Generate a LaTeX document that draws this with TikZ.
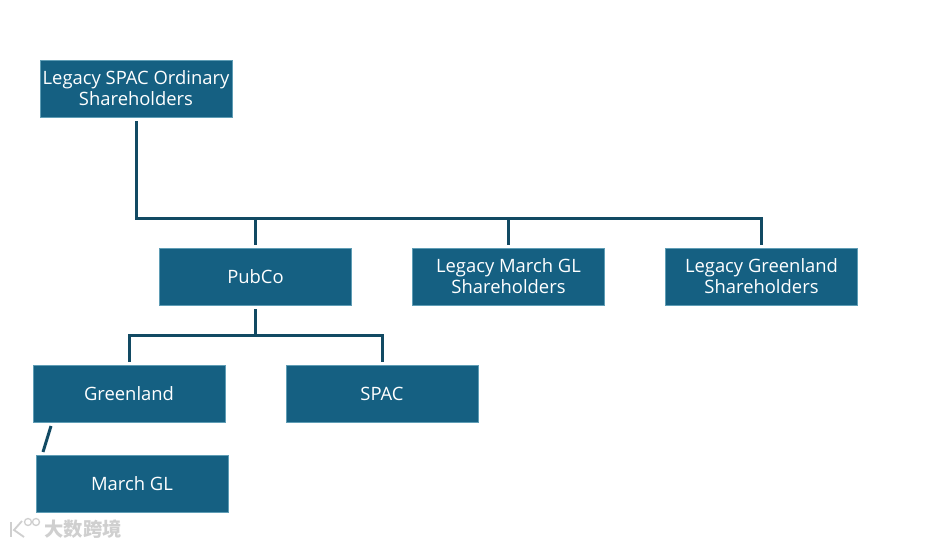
\documentclass[tikz,border=0pt]{standalone}
\usepackage{fontspec}
\setmainfont{Open Sans}
\newfontfamily\cjkfont{Noto Sans CJK SC}
\definecolor{boxblue}{HTML}{156082}
\definecolor{boxedge}{HTML}{5F9DB5}
\definecolor{linkblue}{HTML}{124A63}
\definecolor{markgrey}{HTML}{CFCFCF}
\tikzset{
  entity/.style={draw=boxedge, line width=0.3pt, fill=boxblue, text=white, align=center,
    minimum width=144.2pt, minimum height=43pt, inner sep=0pt,
    font=\fontsize{13.8}{15.75}\selectfont},
  link/.style={draw=linkblue, line width=2.25pt, line cap=butt, line join=miter},
}

\begin{document}
\begin{tikzpicture}[x=0.75pt, y=-0.75pt]
  \useasboundingbox (0,0) rectangle (927,546);

  % Boxes
  \node[entity] (spacholders) at (136, 88.5) {Legacy SPAC Ordinary\\Shareholders};
  \node[entity] (pubco) at (255.5, 276.5) {PubCo};
  \node[entity] (marchholders) at (508.5, 276.5) {Legacy March GL\\Shareholders};
  \node[entity] (greenholders) at (761.5, 276.5) {Legacy Greenland\\Shareholders};
  \node[entity] (greenland) at (129, 393.5) {Greenland};
  \node[entity] (spac) at (382, 393.5) {SPAC};
  \node[entity] (marchgl) at (132, 483.5) {March GL};

  % Ends of the connectors
  \coordinate (topstart) at (136, 121);
  \coordinate (topcorner) at (136, 218);
  \coordinate (topend) at (761, 218);
  \coordinate (pubcotop) at (255, 245);
  \coordinate (marchtop) at (508, 245);
  \coordinate (greentop) at (761, 245);
  \coordinate (busa) at (255, 218);
  \coordinate (busb) at (508, 218);
  \coordinate (lowstart) at (255, 309);
  \coordinate (lowmid) at (255, 335);
  \coordinate (lowleft) at (129, 335);
  \coordinate (lowright) at (382, 335);
  \coordinate (greentip) at (129, 362);
  \coordinate (spactip) at (382, 362);
  \coordinate (diagtop) at (51, 426);
  \coordinate (diagbot) at (43, 452);

  % Connectors
  \draw[link] (topstart) -- (topcorner) -- (topend) -- (greentop);
  \draw[link] (busa) -- (pubcotop);
  \draw[link] (busb) -- (marchtop);
  \draw[link] (lowstart) -- (lowmid);
  \draw[link] (greentip) -- (lowleft) -- (lowright) -- (spactip);
  \draw[link] (diagtop) -- (diagbot);

  % Watermark
  \node[text=markgrey, font=\cjkfont\bfseries\fontsize{14.5}{14.5}\selectfont, inner sep=0pt] (mark) at (83, 529) {大数跨境};
  \draw[markgrey, line width=1.4pt] (11, 522) -- (11, 537);
  \draw[markgrey, line width=1.4pt] (22, 521) -- (14, 530) -- (24, 537);
  \draw[markgrey, line width=1pt] (28, 522) circle [radius=3.5];
  \draw[markgrey, line width=1pt] (36, 522) circle [radius=3.5];
\end{tikzpicture}
\end{document}
